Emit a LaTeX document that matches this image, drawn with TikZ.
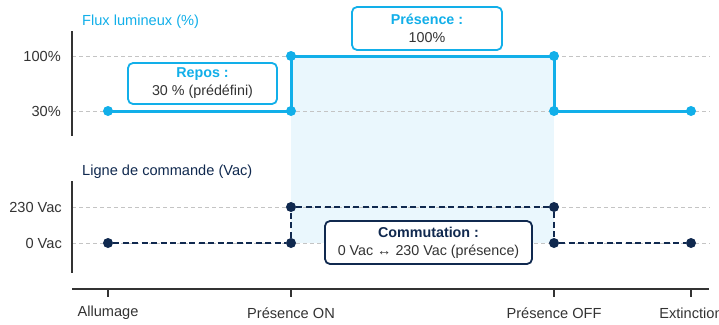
\documentclass[tikz,border=0pt]{standalone}
\usepackage{fontspec}
\setmainfont{Liberation Sans}
\definecolor{fluxblue}{HTML}{12AFE9}
\definecolor{navy}{HTML}{10294F}
\definecolor{lightfill}{HTML}{EAF7FD}
\definecolor{axisgray}{HTML}{333333}
\definecolor{gridgray}{HTML}{C4C4C4}
\definecolor{txtgray}{HTML}{333333}
\tikzset{
  axisline/.style={draw=axisgray, line width=1.6pt},
  gridline/.style={draw=gridgray, line width=0.9pt, dash pattern=on 4pt off 3pt},
  fluxline/.style={draw=fluxblue, line width=3pt, line join=round},
  cmdline/.style={draw=navy, line width=2.2pt, dash pattern=on 6pt off 3.5pt},
  fluxdot/.style={circle, fill=fluxblue, inner sep=0pt, minimum size=10pt},
  cmddot/.style={circle, fill=navy, inner sep=0pt, minimum size=10pt},
  lbl/.style={font=\fontsize{14.6}{17}\selectfont, text=txtgray, inner sep=0pt},
  ylbl/.style={lbl, anchor=east},
  noteblue/.style={draw=fluxblue, line width=1.8pt, rounded corners=5pt, fill=white, align=center, inner sep=0pt, text=txtgray, font=\fontsize{14.3}{18}\selectfont},
  notenavy/.style={draw=navy, line width=1.8pt, rounded corners=5pt, fill=white, align=center, inner sep=0pt, text=txtgray, font=\fontsize{14.3}{18}\selectfont},
}
\begin{document}
\begin{tikzpicture}[x=1pt, y=-1pt]
\useasboundingbox (0,0) rectangle (719,324);
% presence shading
\fill[lightfill] (291,56) rectangle (554,243);
% grid lines
\draw[gridline] (72,56) -- (710,56);
\draw[gridline] (72,111) -- (710,111);
\draw[gridline] (72,207) -- (710,207);
\draw[gridline] (72,243) -- (710,243);
% axes
\draw[axisline] (72,31) -- (72,136);
\draw[axisline] (72,181) -- (72,273);
\draw[axisline] (72,289) -- (709,289);
% ticks and x labels
\foreach \n/\x/\t in {allu/108/Allumage, pon/291/Présence ON, poff/554/Présence OFF, ext/691/Extinction}{
  \draw[axisline] (\x,289) -- (\x,297);
  \node[lbl] (x\n) at (\x,313) {\t};
}
% y labels
\node[ylbl] (y100) at (61,56) {100\%};
\node[ylbl] (y30) at (61,111) {30\%};
\node[ylbl] (y230) at (62,207) {230 Vac};
\node[ylbl] (y0) at (62,243) {0 Vac};
\node[lbl, anchor=west, text=fluxblue] (tflux) at (82,22) {Flux lumineux (\%)};
\node[lbl, anchor=west, text=navy] (tcmd) at (82,172) {Ligne de commande (Vac)};
% flux curve
\node[fluxdot] (f1) at (108,111) {};
\node[fluxdot] (f2) at (291,111) {};
\node[fluxdot] (f3) at (291,56) {};
\node[fluxdot] (f4) at (554,56) {};
\node[fluxdot] (f5) at (554,111) {};
\node[fluxdot] (f6) at (691,111) {};
\draw[fluxline] (f1.center) -- (f2.center) -- (f3.center) -- (f4.center) -- (f5.center) -- (f6.center);
% command curve
\node[cmddot] (c1) at (108,243) {};
\node[cmddot] (c2) at (291,243) {};
\node[cmddot] (c3) at (291,207) {};
\node[cmddot] (c4) at (554,207) {};
\node[cmddot] (c5) at (554,243) {};
\node[cmddot] (c6) at (691,243) {};
\draw[cmdline] (c1) -- (c2) -- (c3) -- (c4) -- (c5) -- (c6);
% note boxes
\node[noteblue, minimum width=149pt, minimum height=41pt] (repos) at (202.5,83.5)
  {\textcolor{fluxblue}{\bfseries Repos :}\\30 \% (prédéfini)};
\node[noteblue, minimum width=150pt, minimum height=43pt] (pres) at (427,28.5)
  {\textcolor{fluxblue}{\bfseries Présence :}\\100\%};
\node[notenavy, minimum width=207pt, minimum height=43pt] (comm) at (428.5,242.5)
  {\textcolor{navy}{\bfseries Commutation :}\\0 Vac ↔ 230 Vac (présence)};
\end{tikzpicture}
\end{document}
